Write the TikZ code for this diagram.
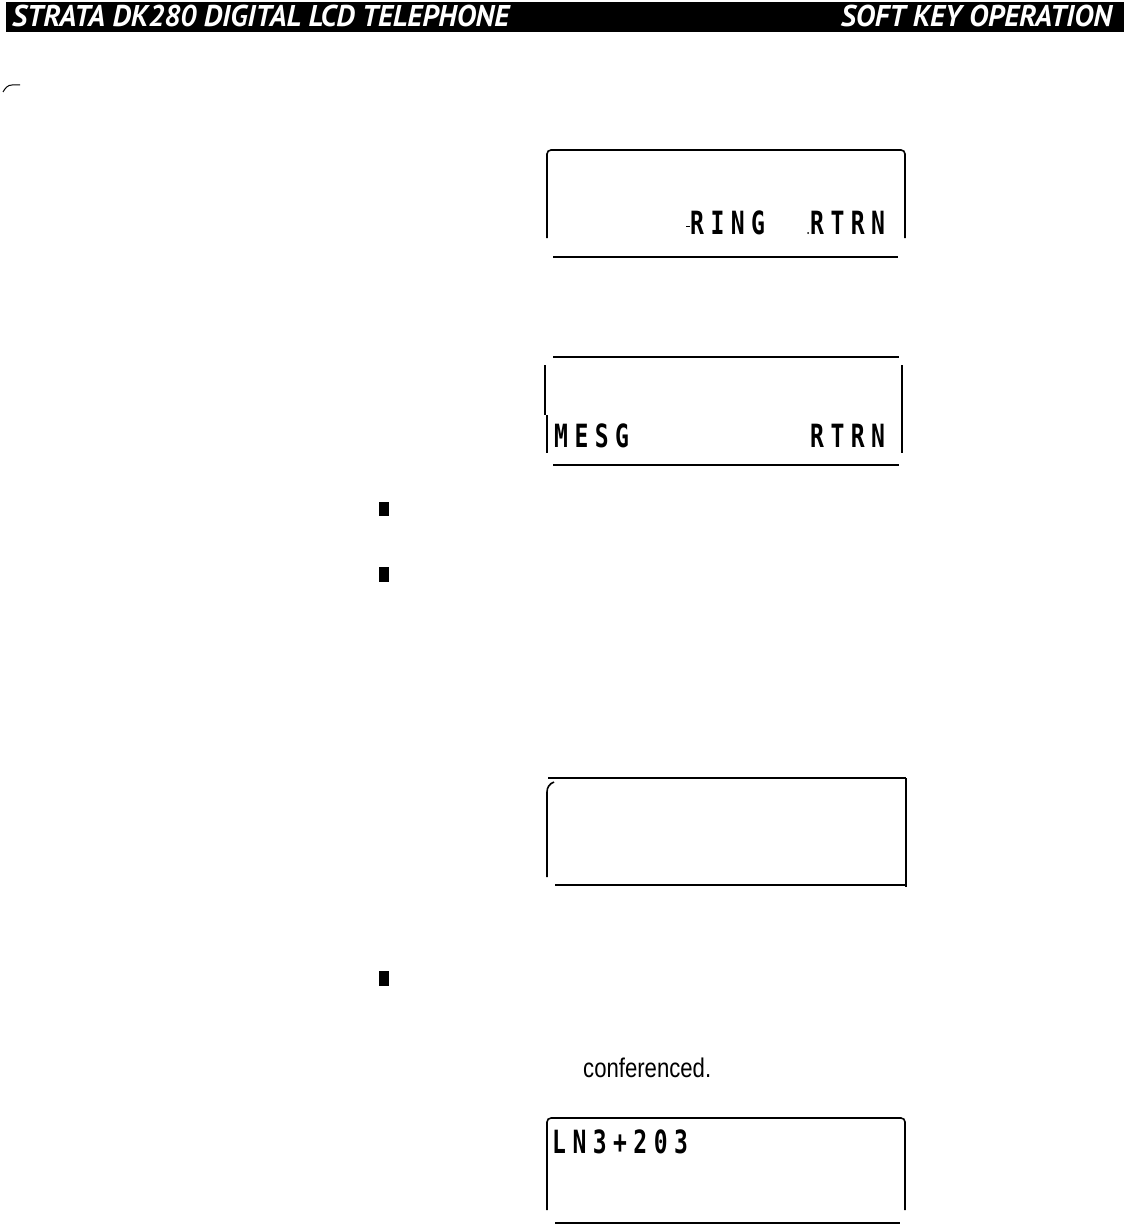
\documentclass[tikz,border=0pt]{standalone}
\usepackage{graphicx}
\usepackage{fontspec}
\setmainfont{Liberation Sans}
\newfontfamily\headfont{PT Sans}
\newfontfamily\lcdfont[LetterSpace=28]{DejaVu Sans Mono}
\usepackage{tikz}
\usetikzlibrary{positioning, calc}
\newcommand{\lcdtxt}[1]{\scalebox{0.72}[1]{\lcdfont\bfseries #1}}
\newcommand{\headtxt}[1]{\scalebox{0.98}[1]{\headfont\bfseries\itshape #1}}
\tikzset{
  % page header
  headbar/.style={
    fill=black, draw=none
  },
  headlabel/.style={
    text=white, font=\fontsize{30}{30}\selectfont,
    inner sep=0pt
  },
  % LCD display frames
  lcdframe/.style={
    draw=black, line width=1.6pt, rounded corners=4pt
  },
  lcdbase/.style={
    draw=black, line width=2.6pt
  },
  lcdlabel/.style={
    font=\fontsize{32}{32}\selectfont,
    inner sep=0pt, anchor=base west
  },
  % bullets
  bulletbox/.style={
    fill=black, draw=none
  },
  bodytext/.style={
    font=\fontsize{27}{27}\selectfont,
    inner sep=0pt, anchor=base west
  }
}
\begin{document}
\begin{tikzpicture}[x=1pt, y=-1pt]
  \useasboundingbox[fill=white] (0,0) rectangle (1129,1225);

  % Header bar
  \fill[headbar] (6,2) rectangle (1124,32);
  \node[headlabel, anchor=base west] (title) at (12,27) {\headtxt{STRATA DK280 DIGITAL LCD TELEPHONE}};
  \node[headlabel, anchor=base east] (section) at (1112,27) {\headtxt{SOFT KEY OPERATION}};

  % corner mark
  \draw[line width=1pt] (3,92) to[out=60,in=180] (12,85) -- (20,85);

  % Display 1
  \draw[lcdframe] (547,238) |- (905,150) -- (905,238);
  \draw[lcdbase] (553,257) -- (898,257);
  \node[lcdlabel] (ring) at (690,234) {\lcdtxt{RING}};
  \node[lcdlabel] (rtrn1) at (810,234) {\lcdtxt{RTRN}};
  \draw[line width=1pt] (686,226) -- (690,226);
  \fill (808,233) circle (1pt);

  % Display 2
  \draw[lcdbase, line width=1.6pt] (553,357) -- (899,357);
  \draw[line width=1.6pt] (545,365) -- (545,415);
  \draw[line width=1.6pt] (547,415) -- (547,453);
  \draw[line width=1.6pt] (902,365) -- (902,453);
  \draw[lcdbase] (553,465) -- (899,465);
  \node[lcdlabel] (mesg) at (554,447) {\lcdtxt{MESG}};
  \node[lcdlabel] (rtrn2) at (810,447) {\lcdtxt{RTRN}};

  % Bullets
  \fill[bulletbox] (379,502) rectangle (389,516);
  \fill[bulletbox] (379,567) rectangle (389,582);
  \fill[bulletbox] (379,971) rectangle (389,986);

  % Display 3
  \draw[line width=1.6pt] (548,778) -- (906,778);
  \draw[line width=1.6pt] (547,877) -- (547,792) to[out=90,in=200] (554,782);
  \draw[line width=1.6pt] (906,778) -- (906,887);
  \draw[lcdbase] (555,885) -- (906,885);

  % Display 4
  \node[bodytext] (conf) at (583,1077) {\scalebox{0.82}[1]{conferenced.}};
  \draw[lcdframe] (547,1210) |- (905,1118) -- (905,1210);
  \draw[lcdbase] (555,1223) -- (900,1223);
  \node[lcdlabel] (line) at (552,1153) {\lcdtxt{LN3+203}};

\end{tikzpicture}
\end{document}
